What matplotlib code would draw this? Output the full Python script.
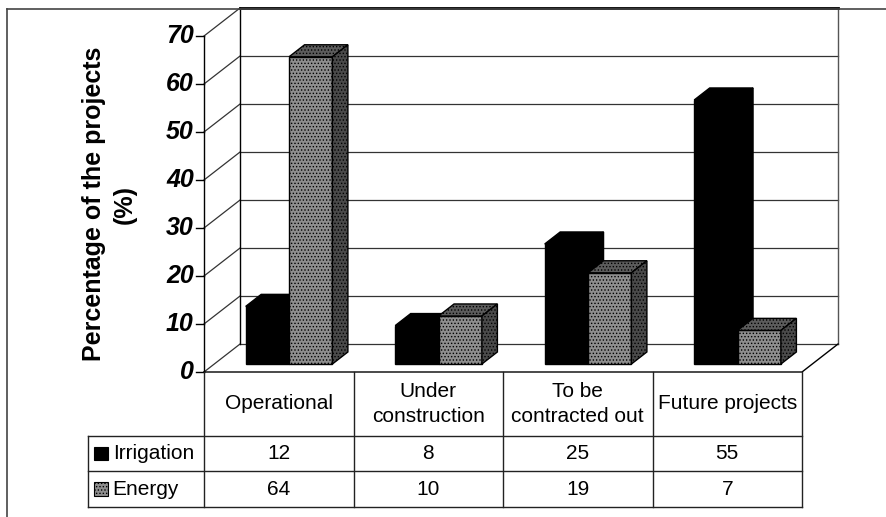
import numpy as np
import matplotlib
matplotlib.use("Agg")
import matplotlib.pyplot as plt
from matplotlib.lines import Line2D

plt.rcParams['font.family'] = ['Liberation Sans', 'DejaVu Sans']
plt.rcParams['hatch.linewidth'] = 0.6

# Data
categories = ['Operational', 'Under\nconstruction', 'To be\ncontracted out', 'Future projects']
series = ['Irrigation', 'Energy']
irrigation = [12, 8, 25, 55]
energy = [64, 10, 19, 7]
yticks = [0, 10, 20, 30, 40, 50, 60, 70]

# Oblique "3D" geometry in data units (x: category, y: percent)
DX, DY = 0.241, 5.83          # depth of the walls
BZ0, BZ = 0.286, 0.43         # bar front position / bar depth as fraction of wall depth
BW = 0.29                     # bar width
ROWS = [0, -13.33, -20.63, -28.13]   # table row borders
LABEL_X = -0.776

fig = plt.figure(figsize=(8.86, 5.17), dpi=100)
ax = fig.add_axes([204 / 886, (517 - 372) / 517, 598 / 886, 336 / 517])
ax.set_xlim(0, 4)
ax.set_ylim(0, 70)
ax.axis('off')

grid_kw = dict(color='#333333', lw=0.9, clip_on=False, zorder=1)

# back wall + gridlines
for v in yticks:
    ax.plot([DX, 4 + DX], [v + DY, v + DY], **grid_kw)
    ax.plot([0, DX], [v, v + DY], **grid_kw)
    ax.plot([-0.055, 0], [v, v], color='black', lw=1, clip_on=False)
    ax.text(-0.068, v, str(v), ha='right', va='center', fontsize=18,
            fontweight='bold', fontstyle='italic')
ax.plot([DX, DX], [DY, 70 + DY], color='black', lw=1, clip_on=False, zorder=1)
ax.plot([4 + DX, 4 + DX], [DY, 70 + DY], color='#555555', lw=1, clip_on=False, zorder=1)
ax.plot([DX, 4 + DX], [70 + DY, 70 + DY], color='black', lw=2, clip_on=False, zorder=1)
ax.plot([0, 0], [0, 70], color='black', lw=1, clip_on=False, zorder=1)
# floor
ax.plot([0, 4, 4 + DX], [0, 0, DY], color='black', lw=1, clip_on=False, zorder=1)

# bars
ox, oy = BZ0 * DX, BZ0 * DY
bdx, bdy = BZ * DX, BZ * DY
styles = [dict(front='black', side='black', top='black', hatch=None),
          dict(front='#8e8e8e', side='#4a4a4a', top='#5c5c5c', hatch='.....')]

for s, vals in enumerate([irrigation, energy]):
    st = styles[s]
    x0 = np.arange(4) + 0.5 - BW + s * BW + ox
    ax.bar(x0, vals, width=BW, bottom=oy, align='edge', color=st['front'],
           edgecolor='black', lw=1, hatch=st['hatch'], clip_on=False, zorder=3 + s)
    for xi, v in zip(x0, vals):
        top = oy + v
        ax.fill([xi, xi + BW, xi + BW + bdx, xi + bdx], [top, top, top + bdy, top + bdy],
                facecolor=st['top'], edgecolor='black', lw=1, hatch=st['hatch'],
                clip_on=False, zorder=3 + s)
        ax.fill([xi + BW, xi + BW + bdx, xi + BW + bdx, xi + BW],
                [oy, oy + bdy, top + bdy, top],
                facecolor=st['side'], edgecolor='black', lw=1, hatch=st['hatch'],
                clip_on=False, zorder=3 + s)

# y label
ax.text(-0.635, 35.0, 'Percentage of the projects\n(%)', rotation=90, ha='center',
        va='center', fontsize=18, fontweight='bold', linespacing=1.35)

# data table
line_kw = dict(color='#222222', lw=1, clip_on=False)
for i in range(5):
    ax.plot([i, i], [ROWS[0], ROWS[3]], **line_kw)
for r in ROWS[1:]:
    ax.plot([LABEL_X, 4], [r, r], **line_kw)
ax.plot([LABEL_X, LABEL_X], [ROWS[1], ROWS[3]], **line_kw)

for i, c in enumerate(categories):
    ax.text(i + 0.5, (ROWS[0] + ROWS[1]) / 2, c, ha='center', va='center',
            fontsize=15, linespacing=1.45)
    for s, vals in enumerate([irrigation, energy]):
        ax.text(i + 0.5, (ROWS[s + 1] + ROWS[s + 2]) / 2, str(vals[i]),
                ha='center', va='center', fontsize=15)

for s, name in enumerate(series):
    yc = (ROWS[s + 1] + ROWS[s + 2]) / 2
    ax.bar(LABEL_X + 0.04, 2.9, width=0.094, bottom=yc - 1.45, align='edge',
           color=styles[s]['front'], edgecolor='black', lw=0.8,
           hatch=styles[s]['hatch'], clip_on=False)
    ax.text(LABEL_X + 0.165, yc, name, ha='left', va='center', fontsize=15)

# outer chart-area frame
fig.add_artist(Line2D([7 / 886, 7 / 886], [0, 1 - 9 / 517], color='#444444', lw=1.2,
                      transform=fig.transFigure))
fig.add_artist(Line2D([7 / 886, 1], [1 - 9 / 517, 1 - 9 / 517], color='#444444', lw=1.2,
                      transform=fig.transFigure))

fig.savefig('out.png', dpi=100)
